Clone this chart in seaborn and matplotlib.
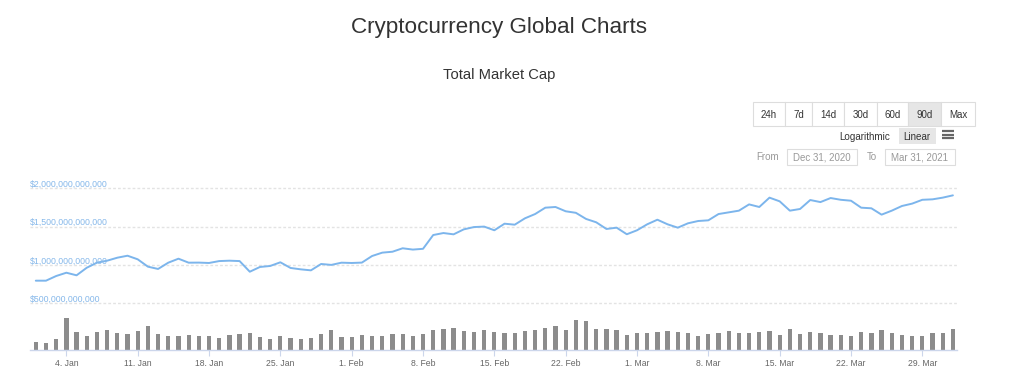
import matplotlib
matplotlib.use("Agg")
import matplotlib.pyplot as plt
from matplotlib.patches import Rectangle
import numpy as np
import pandas as pd
import seaborn as sns

# daily data, 91 days
start_date = "2021-01-01"

# total market cap, trillions USD
market_cap_t = [
    0.794, 0.794, 0.855, 0.898, 0.864, 0.963, 1.029, 1.055, 1.094, 1.120,
    1.073, 0.977, 0.947, 1.029, 1.081, 1.029, 1.030, 1.025, 1.050, 1.055,
    1.050, 0.911, 0.973, 0.986, 1.034, 0.960, 0.942, 0.929, 1.012, 1.000,
    1.029, 1.025, 1.030, 1.116, 1.160, 1.172, 1.217, 1.200, 1.210, 1.390,
    1.416, 1.399, 1.464, 1.494, 1.500, 1.452, 1.538, 1.525, 1.608, 1.664,
    1.747, 1.756, 1.700, 1.680, 1.600, 1.556, 1.469, 1.486, 1.400, 1.452,
    1.530, 1.590, 1.530, 1.486, 1.543, 1.573, 1.582, 1.664, 1.686, 1.708,
    1.790, 1.756, 1.878, 1.830, 1.708, 1.730, 1.847, 1.820, 1.873, 1.850,
    1.838, 1.747, 1.739, 1.656, 1.708, 1.769, 1.800, 1.850, 1.856, 1.878,
    1.908,
]

# 24h volume, billions USD (estimated)
volume_b = [
    69, 63, 102, 285, 162, 129, 162, 177, 150, 144,
    171, 216, 144, 123, 123, 135, 129, 123, 108, 135,
    144, 150, 117, 99, 123, 108, 96, 108, 144, 183,
    117, 117, 135, 126, 126, 147, 144, 126, 144, 183,
    186, 198, 171, 162, 177, 162, 156, 156, 171, 177,
    198, 216, 183, 270, 264, 189, 189, 183, 135, 156,
    150, 162, 171, 162, 156, 129, 144, 156, 171, 150,
    156, 162, 171, 135, 189, 144, 162, 150, 135, 135,
    129, 162, 150, 177, 150, 135, 129, 129, 150, 156,
    189,
]

y_ticks_t = [0.5, 1.0, 1.5, 2.0]
range_buttons = ["24h", "7d", "14d", "30d", "60d", "90d", "Max"]
selected_range = "90d"
scale_options = ["Logarithmic", "Linear"]
date_from = "Dec 31, 2020"
date_to = "Mar 31, 2021"

title = "Cryptocurrency Global Charts"
subtitle = "Total Market Cap"

LINE = "#7cb5ec"
BAR = "#8c8c8c"
GRID = "#e3e3e3"
AXIS = "#ccd6eb"

dates = pd.date_range(start_date, periods=len(market_cap_t), freq="D")
df = pd.DataFrame({
    "day": np.arange(len(dates)),
    "cap": np.array(market_cap_t) * 1e12,
    "vol": np.array(volume_b) * 1e9,
})

sns.set_style("white")
plt.rcParams["font.family"] = ["Liberation Sans", "DejaVu Sans"]

W, H = 1012, 375
fig = plt.figure(figsize=(W / 100, H / 100), dpi=100)

# overlay in pixel coords for the page furniture
ui = fig.add_axes([0, 0, 1, 1])
ui.set_xlim(0, W)
ui.set_ylim(H, 0)
ui.axis("off")

ui.text(499, 28, title, ha="center", va="center", fontsize=16.2, color="#333333")
ui.text(499, 75, subtitle, ha="center", va="center", fontsize=10.6, color="#333333")

# range buttons
edges = [753, 785, 812, 844, 877, 908, 941, 975]
for lab, x0, x1 in zip(range_buttons, edges[:-1], edges[1:]):
    fc = "#e6e6e6" if lab == selected_range else "white"
    ui.add_patch(Rectangle((x0, 102), x1 - x0, 24, fc=fc, ec="#dddddd", lw=0.8))
    ui.text((x0 + x1) / 2, 114.5, lab, ha="center", va="center", fontsize=7, color="#333333")

# log / linear toggle
ui.text(865, 137, scale_options[0], ha="center", va="center", fontsize=7.1, color="#333333")
ui.add_patch(Rectangle((899, 128), 37, 16, fc="#e6e6e6", ec="none"))
ui.text(917, 137, scale_options[1], ha="center", va="center", fontsize=7.1, color="#333333")
for yy in (131, 134.5, 138):
    ui.plot([942, 954], [yy, yy], color="#666666", lw=1.6, solid_capstyle="butt")

# date range inputs
ui.text(768, 157, "From", ha="center", va="center", fontsize=7, color="#999999")
ui.add_patch(Rectangle((787, 149), 70, 16, fc="white", ec="#dddddd", lw=0.8))
ui.text(822, 157, date_from, ha="center", va="center", fontsize=7, color="#999999")
ui.text(872, 157, "To", ha="center", va="center", fontsize=7, color="#999999")
ui.add_patch(Rectangle((885, 149), 70, 16, fc="white", ec="#dddddd", lw=0.8))
ui.text(920, 157, date_to, ha="center", va="center", fontsize=7, color="#999999")

# pane geometry (pixels)
left_px, right_px = 30, 957
px_day0, px_per_day = 35.8, 10.19
xlim = ((left_px - px_day0) / px_per_day, (right_px - px_day0) / px_per_day)

top_px, bot_px = 180, 310
ax = fig.add_axes([left_px / W, 1 - bot_px / H, (right_px - left_px) / W, (bot_px - top_px) / H])
sns.lineplot(data=df, x="day", y="cap", ax=ax, color=LINE, lw=1.4)
grid_px = 188.3
px_per_t = 76.6
ax.set_ylim((2 - (bot_px - grid_px) / px_per_t) * 1e12, (2 + (grid_px - top_px) / px_per_t) * 1e12)
ax.set_xlim(*xlim)
for t in y_ticks_t:
    ax.axhline(t * 1e12, color=GRID, lw=1, ls=(0, (2, 1.5)), zorder=0)
    ax.annotate(f"${t * 1e12:,.0f}", xy=(0, t * 1e12), xycoords=("axes fraction", "data"),
                xytext=(0, -0.5), textcoords="offset points", ha="left", va="bottom",
                fontsize=6.3, color="#86b8ea")
ax.set_xticks([])
ax.set_yticks([])
ax.set_xlabel("")
ax.set_ylabel("")
for s in ax.spines.values():
    s.set_visible(False)
ax.patch.set_alpha(0)

# volume pane
vtop_px, vbot_px = 314, 350
axv = fig.add_axes([left_px / W, 1 - vbot_px / H, (right_px - left_px) / W, (vbot_px - vtop_px) / H])
sns.barplot(data=df, x="day", y="vol", ax=axv, native_scale=True, width=0.42,
            color=BAR, saturation=1, errorbar=None, linewidth=0, edgecolor="none")
axv.set_ylim(0, 324e9)
axv.set_xlim(*xlim)
axv.set_yticks([])
axv.set_xlabel("")
axv.set_ylabel("")
for k, s in axv.spines.items():
    s.set_visible(k == "bottom")
axv.spines["bottom"].set_color(AXIS)
axv.spines["bottom"].set_linewidth(1)
ticks = [i for i, d in enumerate(dates) if d.weekday() == 0]
axv.set_xticks(ticks)
axv.set_xticklabels([f"{dates[i].day}. {dates[i]:%b}" for i in ticks])
axv.tick_params(axis="x", direction="out", length=4.3, width=0.8, color=AXIS,
                labelsize=6.2, labelcolor="#666666", pad=2, bottom=True)
axv.patch.set_alpha(0)

fig.savefig("out.png", dpi=100)
